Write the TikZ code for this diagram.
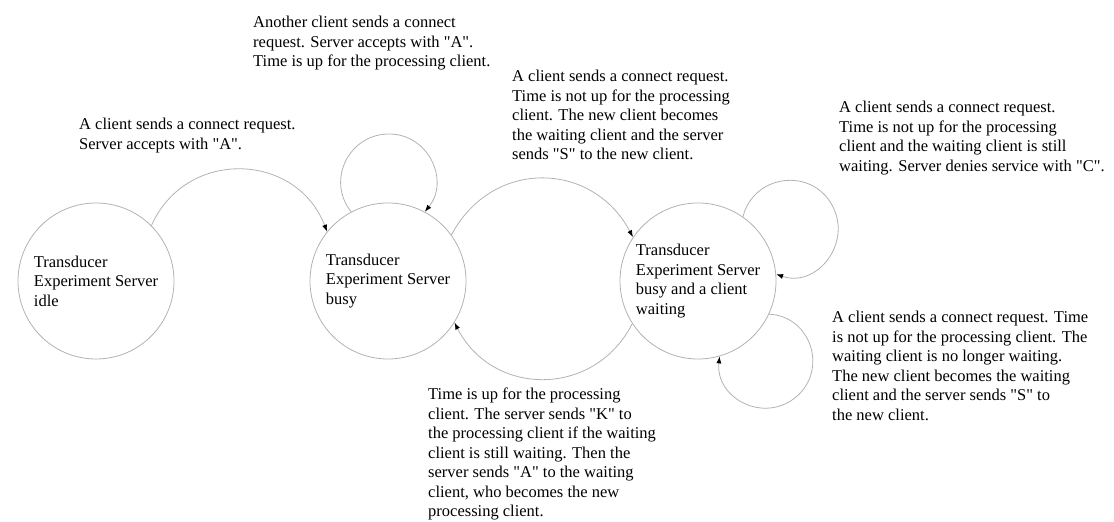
\documentclass[tikz,border=0pt]{standalone}
\usepackage{fontspec}
\setmainfont{Liberation Serif}
\usetikzlibrary{arrows.meta}

\newcommand{\qt}[1]{\textquotedbl#1\textquotedbl}

\begin{document}
\begin{tikzpicture}[x=1pt, y=1pt,
    state/.style={circle, draw=gray!60, line width=0.8pt, minimum size=156pt, inner sep=0pt, align=left, font=\fontsize{16.5}{19.5}\selectfont},
    note/.style={anchor=north west, inner sep=0pt, align=left, font=\fontsize{16.5}{19.5}\selectfont},
    trans/.style={draw=gray!60, line width=0.8pt, -{Latex[color=black, length=7pt, width=5pt]}}]
    \useasboundingbox (0,0) rectangle (1114,522);

    \node [state] (idle) at (96,241) {Transducer\\Experiment Server\\idle};
    \node [state] (busy) at (388,241) {Transducer\\Experiment Server\\busy};
    \node [state] (wait) at (698,241) {Transducer\\Experiment Server\\busy and a client\\waiting};

    \node [note] (accept) at (79,404) {A client sends a connect request.\\Server accepts with \qt{A}.};
    \node [note] (another) at (253,506) {Another client sends a connect\\request. Server accepts with \qt{A}.\\Time is up for the processing client.};
    \node [note] (becomes) at (512,452) {A client sends a connect request.\\Time is not up for the processing\\client. The new client becomes\\the waiting client and the server\\sends \qt{S} to the new client.};
    \node [note] (denies) at (839,421) {A client sends a connect request.\\Time is not up for the processing\\client and the waiting client is still\\waiting. Server denies service with \qt{C}.};
    \node [note] (nolonger) at (832,211) {A client sends a connect request. Time\\is not up for the processing client. The\\waiting client is no longer waiting.\\The new client becomes the waiting\\client and the server sends \qt{S} to\\the new client.};
    \node [note] (timeup) at (428,134) {Time is up for the processing\\client. The server sends \qt{K} to\\the processing client if the waiting\\client is still waiting. Then the\\server sends \qt{A} to the waiting\\client, who becomes the new\\processing client.};

    % far points of the self loops
    \coordinate (busytop) at (389,388);
    \coordinate (waittop) at (832,317);
    \coordinate (waitbot) at (796,125);

    \draw [trans] (idle.45) to [out=66, in=111, looseness=1.24] (busy.141);
    \draw [trans] (busy.118) to [out=129, in=180, looseness=1.19] (busytop)
        to [out=0, in=51, looseness=1.19] (busy.62);
    \draw [trans] (busy.36) to [out=62, in=118, looseness=1.22] (wait.146);
    \draw [trans] (wait.213) to [out=-117, in=-63, looseness=1.2] (busy.-32);
    \draw [trans] (wait.55) to [out=76, in=119, looseness=1.24] (waittop)
        to [out=-61, in=-19, looseness=1.24] (wait.5);
    \draw [trans] (wait.-25) to [out=-3, in=40, looseness=1.24] (waitbot)
        to [out=-140, in=-96, looseness=1.24] (wait.-74);
\end{tikzpicture}
\end{document}
